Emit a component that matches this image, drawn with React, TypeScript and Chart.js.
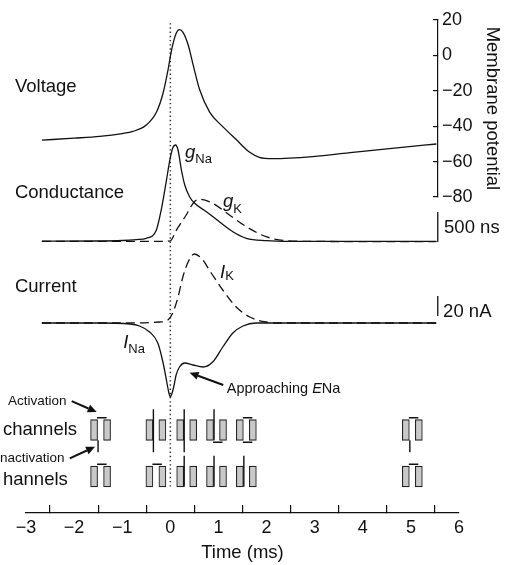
import React, { useEffect, useRef } from 'react';
import { Chart, registerables } from 'chart.js';

Chart.register(...registerables);

// ---------------- data ----------------
const voltageTime = [-2.67, -2.0, -1.47, -1.0, -0.78, -0.5, -0.29, -0.15, -0.05, 0.02, 0.12, 0.19, 0.26, 0.37, 0.47, 0.61, 0.82, 1.09, 1.37, 1.65, 1.85, 2.13, 2.96, 3.79, 4.76, 5.53];
const voltageMV = [-47.9, -46.8, -45.8, -44.2, -43, -39.4, -32.2, -21.3, -8.6, 2.2, 12.2, 14.4, 13.1, 5.9, -5, -19.5, -32.2, -40.3, -47.6, -54.8, -57.6, -58.4, -57.2, -54.8, -52.1, -50.1];

const gNaTime = [-2.67, -1.5, -1.0, -0.7, -0.5, -0.29, -0.19, -0.08, -0.01, 0.05, 0.11, 0.16, 0.23, 0.3, 0.4, 0.5, 0.75, 1.02, 1.3, 1.58, 1.99, 2.5, 5.53];
const gNaValue = [15, 17, 25, 40, 62, 200, 533, 1033, 1367, 1567, 1617, 1533, 1200, 950, 755, 650, 505, 338, 172, 62, 22, 10, 10];

const gKTime = [-2.67, -1.0, -0.3, 0.0, 0.12, 0.33, 0.5, 0.64, 0.88, 1.23, 1.58, 1.99, 2.41, 3.0, 5.53];
const gKValue = [10, 10, 10, 20, 190, 450, 672, 712, 645, 450, 255, 88, 22, 10, 5];

const iNaTime = [-2.67, -1.5, -0.84, -0.64, -0.43, -0.26, -0.15, -0.07, -0.03, 0.0, 0.03, 0.07, 0.12, 0.19, 0.3, 0.47, 0.68, 0.88, 1.09, 1.3, 1.51, 1.78, 2.5, 5.53];
const iNaValue = [0, 0, -1, -3, -9, -20, -40, -60, -70, -74, -71, -64, -52, -44, -40, -42, -44, -39, -24, -10, -3, 0, 0, 0];

const iKTime = [-2.67, -1.0, -0.22, -0.05, 0.05, 0.16, 0.26, 0.37, 0.5, 0.64, 0.85, 1.09, 1.37, 1.65, 1.99, 2.27, 5.53];
const iKValue = [0, 0, 1, 3, 10, 26, 46, 61, 69, 65, 50, 33, 16, 6, 1, 0, 0];

const naChannelTime = [-1.45, -0.3, 0.34, 0.96, 1.58, 5.03];
const naActivationOpen = [false, true, true, true, false, false];
const naInactivationOpen = [true, true, true, false, false, true];

const kChannelTime = [-1.45, -0.3, 0.34, 0.96, 1.58, 5.03];
const kActivationOpen = [false, false, true, true, true, false];

const voltageTickValues = [-80, -60, -40, -20, 0, 20];
const timeTickValues = [-3, -2, -1, 0, 1, 2, 3, 4, 5, 6];

const conductanceBar = [0, 500]; // nS  ("500 ns")
const currentBar = [7, 27]; // nA    ("20 nA")
const NA_ROW = 1;
const K_ROW = 0;

// ---------------- layout ----------------
const W = 512;
const H = 565;
const FONT = '"Liberation Sans", Arial, Helvetica, sans-serif';
const INK = '#111';
const X_MIN = -3;
const X_MAX = 6;
const PLOT_LEFT = 26;
const PLOT_RIGHT = 459;
const PLOT_BOTTOM = 513;
const V_AXIS_PX = 438;
const V_TOP = 13.5;
const V_BOTTOM = 197;
const PX_PER_MS = (PLOT_RIGHT - PLOT_LEFT) / (X_MAX - X_MIN);
const V_X_MAX = X_MIN + (V_AXIS_PX - PLOT_LEFT) / PX_PER_MS;
const BAR_T = V_X_MAX - 0.005;

function rangeFor(zeroPx: number, pxPerUnit: number) {
  return { min: (zeroPx - PLOT_BOTTOM) / pxPerUnit, max: zeroPx / pxPerUnit };
}
const ROW_PX = 46.5;
const gRange = rangeFor(242, 30 / 500);
const iRange = rangeFor(323, 1);
const cRange = rangeFor(476.5, ROW_PX);

// channel glyph geometry
const MS = 1 / PX_PER_MS;
const RECT_OFF = 6.5 * MS;
const RECT_HALF = 10.3 / ROW_PX;
const GATE_X = -2.5 * MS;
const BAR_X0 = -3.5 * MS;
const BAR_X1 = 6 * MS;
const GATE_UP = 10.5 / ROW_PX;
const GATE_DOWN = 12 / ROW_PX;
const BAR_GAP = 2 / ROW_PX;

const pts = (t: number[], v: number[]) => t.map((x, i) => ({ x, y: v[i] }));
const minus = (v: number | string) => {
  const n = Number(v);
  return n < 0 ? '\u2212' + Math.abs(n) : String(n);
};

function channelRects() {
  const out: any[] = [];
  const add = (times: number[], row: number) => {
    for (const c of times) {
      out.push({ x: c - RECT_OFF, y: [row - RECT_HALF, row + RECT_HALF] });
      out.push({ x: c + RECT_OFF, y: [row - RECT_HALF, row + RECT_HALF] });
    }
  };
  add(naChannelTime, NA_ROW);
  add(kChannelTime, K_ROW);
  return out;
}

function gateLines() {
  const out: any[] = [];
  const seg = (x0: number, y0: number, x1: number, y1: number) => {
    out.push({ x: x0, y: y0 }, { x: x1, y: y1 }, { x: x1, y: null });
  };
  const gates = (times: number[], row: number, act: boolean[], inact: boolean[] | null) => {
    times.forEach((c, i) => {
      const top = row + RECT_HALF;
      const bot = row - RECT_HALF;
      if (act[i]) seg(c + GATE_X, top + GATE_UP, c + GATE_X, bot);
      else seg(c + BAR_X0, top + BAR_GAP, c + BAR_X1, top + BAR_GAP);
      if (inact) {
        if (inact[i]) seg(c + GATE_X, bot, c + GATE_X, bot - GATE_DOWN);
        else seg(c + BAR_X0, bot - BAR_GAP, c + BAR_X1, bot - BAR_GAP);
      }
    });
  };
  gates(naChannelTime, NA_ROW, naActivationOpen, naInactivationOpen);
  gates(kChannelTime, K_ROW, kActivationOpen, null);
  return out;
}

// ---------------- annotations ----------------
type Part = { text: string; italic?: boolean; size: number; dy?: number };
type Label = { parts: Part[]; x: number; y: number; axis: string };
type Arrow = { x0: number; y0: number; x1: number; y1: number; axis: string };

const BIG = 18.5;
const SUB = 13;
const labels: Label[] = [
  { parts: [{ text: 'Voltage', size: BIG }], x: -3.23, y: -20.6, axis: 'yV' },
  { parts: [{ text: 'Conductance', size: BIG }], x: -3.23, y: 733, axis: 'yG' },
  { parts: [{ text: 'Current', size: BIG }], x: -3.23, y: 31.5, axis: 'yI' },
  { parts: [{ text: 'g', italic: true, size: BIG }, { text: 'Na', size: SUB, dy: 5 }], x: 0.305, y: 1392, axis: 'yG' },
  { parts: [{ text: 'g', italic: true, size: BIG }, { text: 'K', size: SUB, dy: 6 }], x: 1.095, y: 583, axis: 'yG' },
  { parts: [{ text: 'I', italic: true, size: BIG }, { text: 'K', size: SUB, dy: 2 }], x: 1.033, y: 44.7, axis: 'yI' },
  { parts: [{ text: 'I', italic: true, size: BIG }, { text: 'Na', size: SUB, dy: 5 }], x: -0.98, y: -25.3, axis: 'yI' },
  { parts: [{ text: 'Approaching ', size: 14.5 }, { text: 'E', italic: true, size: 14.5 }, { text: 'Na', size: 14.5 }], x: 1.172, y: -70, axis: 'yI' },
  { parts: [{ text: '500 ns', size: BIG }], x: 5.69, y: 150, axis: 'yG' },
  { parts: [{ text: '20 nA', size: BIG }], x: 5.67, y: 6, axis: 'yI' },
  { parts: [{ text: 'Activation', size: 13.5 }], x: -3.374, y: 1.538, axis: 'yC' },
  { parts: [{ text: 'channels', size: BIG }], x: -3.478, y: 0.892, axis: 'yC' },
  { parts: [{ text: 'nactivation', size: 13.5 }], x: -3.54, y: 0.318, axis: 'yC' },
  { parts: [{ text: 'hannels', size: BIG }], x: -3.478, y: -0.183, axis: 'yC' },
];
const arrows: Arrow[] = [
  { x0: -2.05, y0: 1.62, x1: -1.53, y1: 1.385, axis: 'yC' },
  { x0: -2.09, y0: 0.39, x1: -1.565, y1: 0.64, axis: 'yC' },
  { x0: 1.1, y0: -62, x1: 0.4, y1: -49.7, axis: 'yI' },
];

const annotationPlugin = {
  id: 'annotations',
  afterDraw(chart: any) {
    const ctx = chart.ctx as CanvasRenderingContext2D;
    const xs = chart.scales.x;
    ctx.save();
    ctx.fillStyle = INK;
    ctx.strokeStyle = INK;
    ctx.textBaseline = 'alphabetic';
    ctx.textAlign = 'left';
    for (const l of labels) {
      const ys = chart.scales[l.axis];
      if (!ys) continue;
      let px = xs.getPixelForValue(l.x);
      const py = ys.getPixelForValue(l.y);
      for (const p of l.parts) {
        ctx.font = `${p.italic ? 'italic ' : ''}${p.size}px ${FONT}`;
        ctx.fillText(p.text, px, py + (p.dy || 0));
        px += ctx.measureText(p.text).width;
      }
    }
    for (const a of arrows) {
      const ys = chart.scales[a.axis];
      if (!ys) continue;
      const x0 = xs.getPixelForValue(a.x0);
      const y0 = ys.getPixelForValue(a.y0);
      const x1 = xs.getPixelForValue(a.x1);
      const y1 = ys.getPixelForValue(a.y1);
      const ang = Math.atan2(y1 - y0, x1 - x0);
      const hl = 9;
      const hw = 4;
      const bx = x1 - hl * Math.cos(ang);
      const by = y1 - hl * Math.sin(ang);
      ctx.lineWidth = 2;
      ctx.beginPath();
      ctx.moveTo(x0, y0);
      ctx.lineTo(bx, by);
      ctx.stroke();
      ctx.beginPath();
      ctx.moveTo(x1, y1);
      ctx.lineTo(bx + hw * Math.sin(ang), by - hw * Math.cos(ang));
      ctx.lineTo(bx - hw * Math.sin(ang), by + hw * Math.cos(ang));
      ctx.closePath();
      ctx.fill();
    }
    ctx.restore();
  },
};

const traceStyle = {
  borderColor: INK,
  borderWidth: 1.3,
  pointRadius: 0,
  fill: false,
  cubicInterpolationMode: 'monotone' as const,
  xAxisID: 'x',
};

function mainConfig(): any {
  return {
    type: 'line',
    data: {
      datasets: [
        { ...traceStyle, data: pts(gNaTime, gNaValue), yAxisID: 'yG' },
        { ...traceStyle, data: pts(gKTime, gKValue), yAxisID: 'yG', borderDash: [9, 5] },
        { ...traceStyle, data: pts(iNaTime, iNaValue), yAxisID: 'yI' },
        { ...traceStyle, data: pts(iKTime, iKValue), yAxisID: 'yI', borderDash: [9, 5] },
        { ...traceStyle, cubicInterpolationMode: 'default', tension: 0, data: [{ x: BAR_T, y: conductanceBar[0] }, { x: BAR_T, y: conductanceBar[1] }], yAxisID: 'yG' },
        { ...traceStyle, cubicInterpolationMode: 'default', tension: 0, data: [{ x: BAR_T, y: currentBar[0] }, { x: BAR_T, y: currentBar[1] }], yAxisID: 'yI' },
        { ...traceStyle, cubicInterpolationMode: 'default', tension: 0, borderWidth: 1.4, spanGaps: false, data: gateLines(), yAxisID: 'yC' },
        {
          type: 'bar',
          data: channelRects(),
          xAxisID: 'x',
          yAxisID: 'yC',
          backgroundColor: '#c9c9c9',
          borderColor: '#222',
          borderWidth: 1.1,
          borderSkipped: false,
          barThickness: 7,
          grouped: false,
        },
        { ...traceStyle, cubicInterpolationMode: 'default', tension: 0, borderWidth: 1.5, borderColor: '#333', borderDash: [1.4, 2.8], data: [{ x: 0, y: 9.75 }, { x: 0, y: -0.23 }], yAxisID: 'yC' },
      ],
    },
    options: {
      responsive: false,
      animation: false,
      devicePixelRatio: 1,
      events: [],
      layout: { padding: { left: PLOT_LEFT, right: W - PLOT_RIGHT, top: 0, bottom: 0 } },
      plugins: { legend: { display: false }, tooltip: { enabled: false } },
      scales: {
        x: {
          type: 'linear',
          position: 'bottom',
          min: X_MIN,
          max: X_MAX,
          offset: false,
          afterFit: (s: any) => { s.height = H - PLOT_BOTTOM; },
          afterBuildTicks: (s: any) => { s.ticks = timeTickValues.map((v) => ({ value: v })); },
          ticks: { autoSkip: false, maxRotation: 0, padding: 12, color: INK, font: { size: 18, family: FONT }, callback: minus },
          grid: { drawOnChartArea: false, tickLength: -8, color: INK, lineWidth: 1.2 },
          border: { color: INK, width: 1.2 },
          title: { display: true, text: 'Time (ms)', color: INK, font: { size: BIG, family: FONT }, padding: { top: 0, bottom: 1 } },
        },
        yG: { type: 'linear', display: false, min: gRange.min, max: gRange.max },
        yI: { type: 'linear', display: false, min: iRange.min, max: iRange.max },
        yC: { type: 'linear', display: false, min: cRange.min, max: cRange.max },
      },
    },
    plugins: [annotationPlugin],
  };
}

function voltageConfig(): any {
  return {
    type: 'line',
    data: {
      datasets: [{ ...traceStyle, data: pts(voltageTime, voltageMV), yAxisID: 'yV' }],
    },
    options: {
      responsive: false,
      animation: false,
      devicePixelRatio: 1,
      events: [],
      layout: { padding: { left: PLOT_LEFT, right: 0, top: V_TOP, bottom: H - V_BOTTOM } },
      plugins: { legend: { display: false }, tooltip: { enabled: false } },
      scales: {
        x: { type: 'linear', display: false, min: X_MIN, max: V_X_MAX },
        yV: {
          type: 'linear',
          position: 'right',
          min: -80,
          max: 20,
          afterFit: (s: any) => { s.width = W - V_AXIS_PX; },
          afterBuildTicks: (s: any) => { s.ticks = voltageTickValues.map((v) => ({ value: v })); },
          ticks: { padding: 9, color: INK, font: { size: 18, family: FONT }, callback: minus },
          grid: { drawOnChartArea: false, tickLength: -5, color: INK, lineWidth: 1.2 },
          border: { color: INK, width: 1.2 },
          title: { display: true, text: 'Membrane potential', color: INK, font: { size: BIG, family: FONT }, padding: { top: 9, bottom: 0 } },
        },
      },
    },
    plugins: [annotationPlugin],
  };
}

export default function App() {
  const mainRef = useRef<HTMLCanvasElement>(null);
  const voltRef = useRef<HTMLCanvasElement>(null);
  useEffect(() => {
    Chart.defaults.font.family = FONT;
    const main = new Chart(mainRef.current as HTMLCanvasElement, mainConfig());
    const volt = new Chart(voltRef.current as HTMLCanvasElement, voltageConfig());
    return () => {
      main.destroy();
      volt.destroy();
    };
  }, []);
  return (
    <div style={{ position: 'fixed', left: 0, top: 0, width: W, height: H, background: '#fff' }}>
      <canvas ref={mainRef} width={W} height={H} style={{ position: 'absolute', left: 0, top: 0 }} />
      <canvas ref={voltRef} width={W} height={H} style={{ position: 'absolute', left: 0, top: 0 }} />
    </div>
  );
}
